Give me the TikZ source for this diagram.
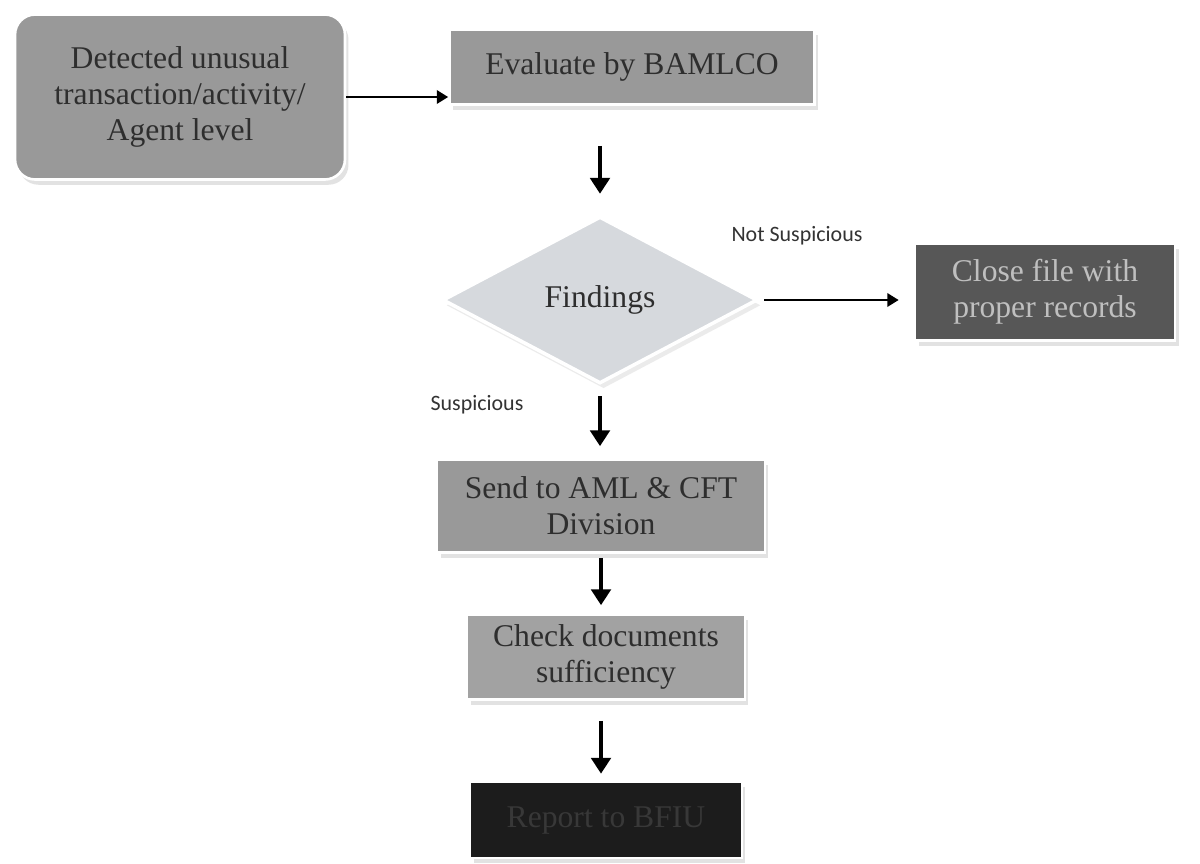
\documentclass[tikz,border=0pt]{standalone}
\usepackage{fontspec}
\setmainfont{Liberation Serif}
\newfontfamily\labelfont{Carlito}
\usepackage{tikz}
\usetikzlibrary{shapes.geometric,arrows.meta,shadows}
\usepackage{xcolor}
\definecolor{boxgray}{HTML}{999999}
\definecolor{lightbox}{HTML}{A2A2A2}
\definecolor{diamondgray}{HTML}{D6D9DD}
\definecolor{closegray}{HTML}{575757}
\definecolor{reportgray}{HTML}{1C1C1C}
\definecolor{textgray}{HTML}{2E2E2E}

\begin{document}
\begin{tikzpicture}[x=0.02cm,y=-0.02cm,
  box/.style={rectangle,fill=boxgray,draw=white,line width=1.5pt,text=textgray,
    align=center,inner sep=0pt,font=\fontsize{18}{20.5}\selectfont,
    drop shadow={shadow xshift=2pt,shadow yshift=-3pt,fill=black!22}},
  decision/.style={diamond,fill=diamondgray,draw=white,line width=2pt,text=textgray,
    inner sep=0pt,font=\fontsize{18}{20.5}\selectfont,
    drop shadow={shadow xshift=2pt,shadow yshift=-3pt,fill=black!15}},
  lbl/.style={font=\labelfont\fontsize{12.5}{14}\selectfont,text=black!80},
  varr/.style={-{Triangle[length=9pt,width=11pt]},line width=2.8pt},
  harr/.style={-{Triangle[length=6.5pt,width=7.5pt]},line width=1.6pt}]
  \fill[white] (0,0) rectangle (1200,863);
  \useasboundingbox (0,0) rectangle (1200,863);

  % boxes of the flow
  \node[box,rounded corners=0.4cm,minimum width=6.6cm,minimum height=3.3cm] (detect) at (180,97)
    {Detected unusual\\transaction/activity/\\Agent level};
  \node[box,minimum width=7.3cm,minimum height=1.5cm] (evaluate) at (632,67) {Evaluate by BAMLCO};
  \node[decision,minimum width=6.3cm,minimum height=3.34cm] (findings) at (600,300) {Findings};
  \node[box,fill=closegray,text=black!25,minimum width=5.2cm,minimum height=1.94cm] (close) at (1045,292)
    {Close file with\\proper records};
  \node[box,minimum width=6.56cm,minimum height=1.86cm] (send) at (601,506) {Send to AML \& CFT\\Division};
  \node[box,fill=lightbox,minimum width=5.56cm,minimum height=1.7cm] (check) at (606,657)
    {Check documents\\sufficiency};
  \node[box,fill=reportgray,text=black!78,minimum width=5.44cm,minimum height=1.52cm] (report) at (606,820)
    {Report to BFIU};

  % branch labels
  \node[lbl] (notsusp) at (797,236) {Not Suspicious};
  \node[lbl] (susp) at (477,405) {Suspicious};

  % connectors
  \draw[harr] (detect.east) -- (detect.east -| evaluate.west);
  \draw[varr,shorten <=0.8cm,shorten >=0.42cm] (evaluate.south -| findings.north) -- (findings.north);
  \draw[harr,shorten <=0.1cm,shorten >=0.3cm] (findings.east) -- (findings.east -| close.west);
  \draw[varr,shorten <=0.22cm,shorten >=0.24cm] (findings.south) -- (findings.south |- send.north);
  \draw[varr,shorten <=0.08cm,shorten >=0.16cm] (send.south) -- (send.south |- check.north);
  \draw[varr,shorten <=0.4cm,shorten >=0.14cm] (check.south -| send.south) -- (send.south |- report.north);
\end{tikzpicture}
\end{document}
